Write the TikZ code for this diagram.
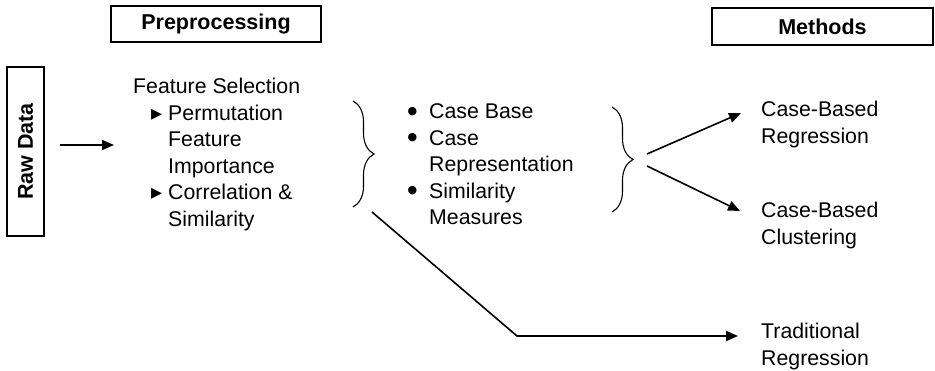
\documentclass[tikz,border=0pt]{standalone}
\usepackage{fontspec}
\setmainfont{Liberation Sans}
\newfontfamily\symfont{DejaVu Sans}
\usetikzlibrary{arrows.meta,decorations.pathreplacing}
% list markers hanging to the left of the item text
\newcommand\tribullet{\llap{{\symfont\fontsize{22}{22}\selectfont ▸}\hspace{6pt}}}
\newcommand\dotbullet{\llap{\raisebox{4.5pt}{\symfont\fontsize{11}{11}\selectfont ●}\hspace{12pt}}}
\begin{document}
\begin{tikzpicture}[x=1pt,y=-1pt,
  lbl/.style={anchor=base west, inner sep=0pt, font=\fontsize{21.3}{26}\selectfont},
  hdr/.style={draw, line width=1.1pt, inner sep=0pt, font=\bfseries\fontsize{21.5}{26}\selectfont},
  arr/.style={line width=1.6pt, -{Triangle[length=12pt,width=10pt]}},
  link/.style={line width=1.6pt},
  brc/.style={line width=1.1pt, decorate, decoration={brace, amplitude=21pt}}]
\useasboundingbox (0,0) rectangle (935,371);

% framed headings
\node[hdr, minimum width=210pt, minimum height=36pt] (pre) at (216,24) {Preprocessing};
\node[hdr, minimum width=221pt, minimum height=37pt] (meth) at (822.5,26.5) {Methods};
\node[hdr, rotate=90, minimum width=169pt, minimum height=37pt] (raw) at (25.5,151.5) {Raw Data};

% feature selection block
\node[lbl] (fs)  at (133,94)    {Feature Selection};
\node[lbl] (pm1) at (168,120.5) {\tribullet Permutation};
\node[lbl] (pm2) at (168,147)   {Feature};
\node[lbl] (pm3) at (168,173.5) {Importance};
\node[lbl] (cs1) at (168,200)   {\tribullet Correlation \&};
\node[lbl] (cs2) at (168,226.5) {Similarity};

% case-base block
\node[lbl] (cb)  at (429,119)   {\dotbullet Case Base};
\node[lbl] (cr1) at (429,145.5) {\dotbullet Case};
\node[lbl] (cr2) at (429,172)   {Representation};
\node[lbl] (sm1) at (429,198.5) {\dotbullet Similarity};
\node[lbl] (sm2) at (429,225)   {Measures};

% methods
\node[lbl] (cbr1) at (761,116.7) {Case-Based};
\node[lbl] (cbr2) at (761,143.2) {Regression};
\node[lbl] (cbc1) at (761,218)   {Case-Based};
\node[lbl] (cbc2) at (761,244.5) {Clustering};
\node[lbl] (tr1)  at (761,339)   {Traditional};
\node[lbl] (tr2)  at (761,365.5) {Regression};

% braces
\coordinate (b1t) at (353,101);
\coordinate (b1b) at (353,207);
\coordinate (b2t) at (612,107);
\coordinate (b2b) at (612,212);
\draw[brc] (b1t) -- (b1b);
\draw[brc] (b2t) -- (b2b);

% connectors
\coordinate (r1) at (60,145);
\coordinate (r2) at (114,145);
\draw[arr] (r1) -- (r2);

\coordinate (s1) at (647,154);
\coordinate (e1) at (741,113);
\coordinate (s2) at (647,166);
\coordinate (e2) at (740,211);
\draw[arr] (s1) -- (e1);
\draw[arr] (s2) -- (e2);

\coordinate (t0) at (372,212);
\coordinate (t1) at (517,336);
\coordinate (t2) at (738,336);
\draw[arr] (t0) -- (t1) -- (t2);
\end{tikzpicture}
\end{document}
